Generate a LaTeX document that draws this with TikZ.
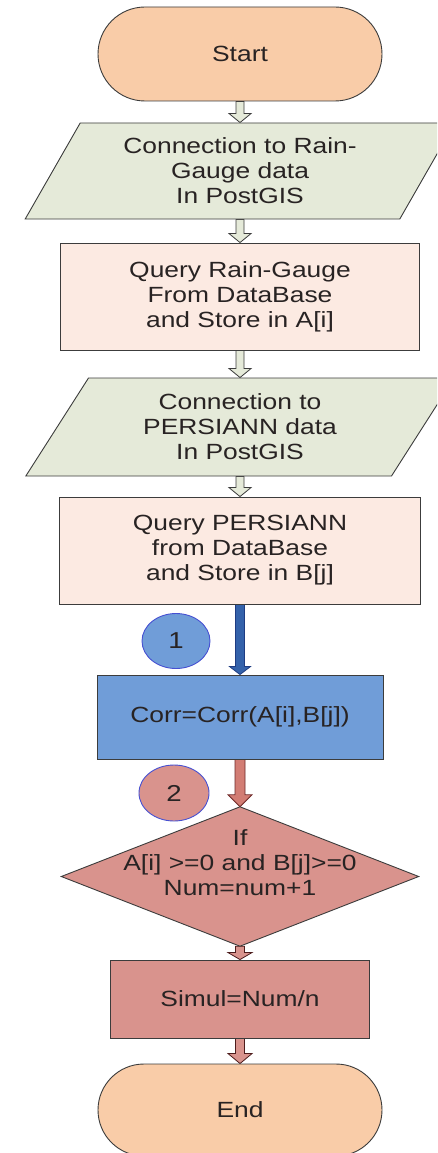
\documentclass[tikz,border=0pt]{standalone}
\usepackage{fontspec}
\setmainfont{Liberation Sans}[FakeStretch=1.2]
\usetikzlibrary{shapes.geometric,shapes.misc,calc}
\pgfdeclarelayer{backlayer}
\pgfdeclarelayer{arrowlayer}
\pgfdeclarelayer{bg}
\pgfsetlayers{backlayer,arrowlayer,bg,main}

\definecolor{peach}{RGB}{249,204,168}
\definecolor{sage}{RGB}{229,234,217}
\definecolor{blush}{RGB}{252,234,226}
\definecolor{corrblue}{RGB}{112,157,216}
\definecolor{arrowblue}{RGB}{52,98,170}
\definecolor{arrowblueedge}{RGB}{30,60,130}
\definecolor{ringblue}{RGB}{70,80,210}
\definecolor{salmon}{RGB}{217,147,141}
\definecolor{redarrow}{RGB}{210,125,116}
\definecolor{darkred}{RGB}{110,40,40}
\definecolor{edge}{RGB}{60,60,60}
\definecolor{ink}{RGB}{40,35,35}

\tikzset{
  base/.style={draw=edge, line width=0.9pt, inner sep=1pt, align=center,
    font=\fontsize{22}{25}\selectfont, text=ink},
  term/.style={base, rounded rectangle, fill=peach, minimum width=286pt, minimum height=94pt},
  io/.style={base, trapezium, trapezium left angle=59.3, trapezium right angle=120.7,
    trapezium stretches=true, fill=sage, minimum width=430pt, minimum height=96pt},
  proc/.style={base, rectangle, fill=blush},
  corrbox/.style={base, rectangle, fill=corrblue},
  redbox/.style={base, rectangle, fill=salmon},
  dia/.style={draw=edge, line width=0.9pt, fill=salmon},
  txt/.style={align=center, inner sep=0pt, font=\fontsize{22}{25}\selectfont, text=ink},
  badge/.style={ellipse, line width=0.9pt, draw=ringblue, inner sep=0pt,
    font=\fontsize{23}{25}\selectfont, text=ink},
  grayarrow/.style={draw=edge, line width=0.8pt, fill=sage},
  bluearrow/.style={draw=arrowblueedge, line width=0.8pt, fill=arrowblue},
  redarr/.style={draw=darkred, line width=0.8pt, fill=redarrow},
  smallred/.style={draw=darkred!70!black, line width=0.8pt, fill=salmon},
}

% block arrow: from, to, style, shaft half width, head half width, head length
\newcommand\blockarrow[6]{%
  \begin{pgfonlayer}{arrowlayer}
  \path[#3] let \p1=(#1.south), \p2=(#2.north) in
    (\x2-#4,\y1) -- (\x2-#4,\y2+#6) -- (\x2-#5,\y2+#6) -- (\x2,\y2)
    -- (\x2+#5,\y2+#6) -- (\x2+#4,\y2+#6) -- (\x2+#4,\y1) -- cycle;
  \end{pgfonlayer}}

\begin{document}
\begin{tikzpicture}[x=1pt,y=-1pt]
\useasboundingbox (0,0) rectangle (437,1153);
\begin{pgfonlayer}{backlayer}
  \fill[white] (0,0) rectangle (437,1153);
\end{pgfonlayer}
\clip (0,0) rectangle (437,1153);

\node[term] (start) at (240,54) {Start};
\node[io] (p1) at (240,171) {Connection to Rain-\\Gauge data\\In PostGIS};
\node[proc, minimum width=359pt, minimum height=107pt] (r1) at (240,296.5)
  {Query Rain-Gauge\\From DataBase\\and Store in A[i]};
\node[io, minimum height=98pt] (p2) at (240,427) {Connection to\\PERSIANN data\\In PostGIS};
\node[proc, minimum width=361pt, minimum height=107pt] (r2) at (240,550.5)
  {Query PERSIANN\\from DataBase\\and Store in B[j]};
\node[corrbox, minimum width=286pt, minimum height=84pt] (corr) at (240,717)
  {Corr=Corr(A[i],B[j])};
\node[minimum width=357pt, minimum height=139pt, inner sep=0pt] (dec) at (240,876.5) {};
\begin{pgfonlayer}{bg}
  \draw[dia] (dec.north) -- (dec.east) -- (dec.south) -- (dec.west) -- cycle;
\end{pgfonlayer}
\node[txt] (dectext) at ([yshift=14pt]dec.center) {If\\A[i] >=0 and B[j]>=0\\Num=num+1};
\node[redbox, minimum width=259pt, minimum height=78pt] (simul) at (240,999) {Simul=Num/n};
\node[term, minimum height=92pt] (end) at (240,1110) {End};

\node[badge, fill=corrblue, minimum width=68pt, minimum height=55pt] (b1) at (176,641) {1};
\node[badge, fill=salmon, minimum width=70pt, minimum height=56pt] (b2) at (174,793) {2};

\blockarrow{start}{p1}{grayarrow}{4pt}{11pt}{9pt}
\blockarrow{p1}{r1}{grayarrow}{4pt}{11pt}{9pt}
\blockarrow{r1}{p2}{grayarrow}{4pt}{11pt}{9pt}
\blockarrow{p2}{r2}{grayarrow}{4pt}{11pt}{9pt}
\blockarrow{r2}{corr}{bluearrow}{4.5pt}{10.5pt}{8pt}
\blockarrow{corr}{dec}{redarr}{5pt}{12pt}{12pt}
\blockarrow{dec}{simul}{smallred}{4.5pt}{12pt}{7pt}
\blockarrow{simul}{end}{smallred}{4.5pt}{12pt}{10pt}
\end{tikzpicture}
\end{document}
